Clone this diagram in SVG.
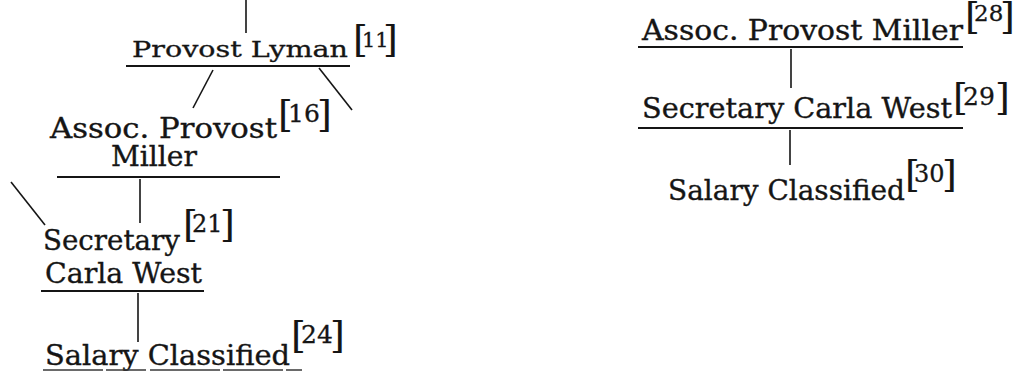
<svg xmlns="http://www.w3.org/2000/svg" width="1020" height="371" viewBox="0 0 1020 371">
  <style>
    .lbl { font-family: "DejaVu Serif", "Liberation Serif", serif; font-size: 27px; fill: #151515; stroke: #151515; stroke-width: 0.35; }
    .lbl.small { font-size: 22px; stroke-width: 0.3; }
    .ref { font-family: "DejaVu Serif", "Liberation Serif", serif; fill: #151515; stroke: #151515; stroke-width: 0.3; }
    .br { font-size: 38px; stroke-width: 0.1; }
    .num { font-size: 25px; }
    .num.n24 { font-size: 24px; }
    .num.n23 { font-size: 23px; }
    .num.n21 { font-size: 21px; }
    .rule { stroke: #151515; stroke-width: 2; fill: none; }
    .link { stroke: #151515; stroke-width: 1.6; fill: none; }
    .faint { stroke: #3a3a3a; stroke-width: 1.6; stroke-dasharray: 60 3 40 4 70 3; fill: none; }
  </style>
  <rect width="1020" height="371" fill="#ffffff"/>

  <g id="connectors">
    <line class="link" x1="246" y1="0" x2="246" y2="33"/>
    <line class="link" x1="213" y1="70" x2="193" y2="108"/>
    <line class="link" x1="319" y1="68" x2="352" y2="110"/>
    <line class="link" x1="140" y1="179" x2="140" y2="223"/>
    <line class="link" x1="11" y1="182" x2="45" y2="225"/>
    <line class="link" x1="138" y1="293" x2="138" y2="342"/>
    <line class="link" x1="791" y1="49" x2="791" y2="88"/>
    <line class="link" x1="790" y1="130" x2="790" y2="165"/>
  </g>

  <!-- left chart -->
  <g id="node-11">
    <text class="lbl small" x="132" y="57" textLength="216" lengthAdjust="spacingAndGlyphs">Provost Lyman</text>
    <text class="ref"><tspan class="br" x="353" y="52">[</tspan><tspan class="num n21" x="362" y="47">11</tspan><tspan class="br" x="383" y="52">]</tspan></text>
    <line class="rule" x1="126" y1="66" x2="350" y2="66"/>
  </g>

  <g id="node-16">
    <text class="lbl" x="50" y="138" textLength="227" lengthAdjust="spacingAndGlyphs">Assoc. Provost</text>
    <text class="lbl" x="111" y="166" textLength="86" lengthAdjust="spacingAndGlyphs">Miller</text>
    <text class="ref"><tspan class="br" x="278" y="127">[</tspan><tspan class="num" x="288" y="122">16</tspan><tspan class="br" x="317" y="127">]</tspan></text>
    <line class="rule" x1="57" y1="177" x2="280" y2="177"/>
  </g>

  <g id="node-21">
    <text class="lbl" x="43" y="250" textLength="137" lengthAdjust="spacingAndGlyphs">Secretary</text>
    <text class="lbl" x="45" y="283" textLength="157" lengthAdjust="spacingAndGlyphs">Carla West</text>
    <text class="ref"><tspan class="br" x="183" y="237">[</tspan><tspan class="num n24" x="192" y="232">21</tspan><tspan class="br" x="220" y="237">]</tspan></text>
    <line class="rule" x1="41" y1="291" x2="204" y2="291"/>
  </g>

  <g id="node-24">
    <text class="lbl" x="45" y="365" textLength="245" lengthAdjust="spacingAndGlyphs">Salary Classified</text>
    <text class="ref"><tspan class="br" x="291" y="348">[</tspan><tspan class="num" x="301" y="343">24</tspan><tspan class="br" x="330" y="348">]</tspan></text>
    <line class="faint" x1="43" y1="370" x2="302" y2="370"/>
  </g>

  <!-- right chart -->
  <g id="node-28">
    <text class="lbl" x="642" y="40" textLength="321" lengthAdjust="spacingAndGlyphs">Assoc. Provost Miller</text>
    <text class="ref"><tspan class="br" x="965" y="29">[</tspan><tspan class="num n23" x="974" y="21">28</tspan><tspan class="br" x="1000" y="29">]</tspan></text>
    <line class="rule" x1="638" y1="47" x2="963" y2="47"/>
  </g>

  <g id="node-29">
    <text class="lbl" x="642" y="118" textLength="310" lengthAdjust="spacingAndGlyphs">Secretary Carla West</text>
    <text class="ref"><tspan class="br" x="953" y="110">[</tspan><tspan class="num" x="963" y="105">29</tspan><tspan class="br" x="995" y="110">]</tspan></text>
    <line class="rule" x1="638" y1="128" x2="963" y2="128"/>
  </g>

  <g id="node-30">
    <text class="lbl" x="668" y="200" textLength="237" lengthAdjust="spacingAndGlyphs">Salary Classified</text>
    <text class="ref"><tspan class="br" x="905" y="187">[</tspan><tspan class="num n24" x="914" y="182">30</tspan><tspan class="br" x="942" y="187">]</tspan></text>
  </g>
</svg>
